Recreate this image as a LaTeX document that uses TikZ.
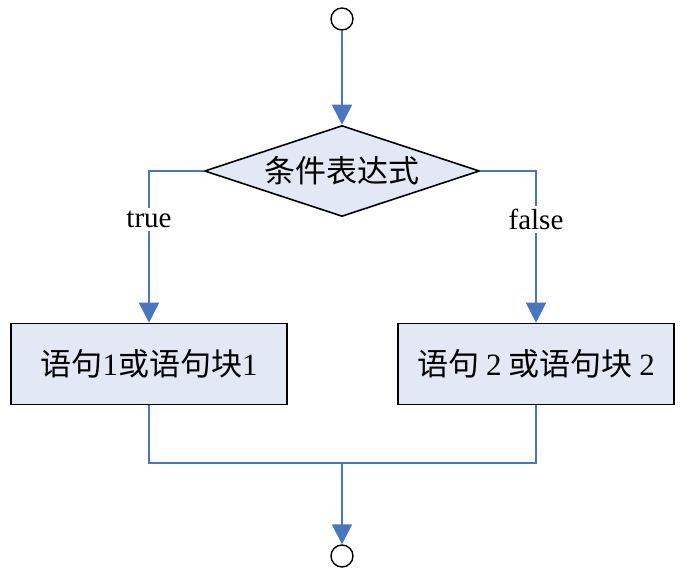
\documentclass[tikz,border=0pt]{standalone}
\usepackage{fontspec}
\setmainfont{Liberation Serif}
\newfontfamily\cjk{Noto Sans CJK SC}
\usetikzlibrary{positioning,shapes.geometric,arrows.meta}
\definecolor{flowblue}{RGB}{74,118,190}
\definecolor{boxfill}{RGB}{226,233,244}
\tikzset{
  basic/.style    = {draw, line width=1.6pt, font=\cjk\fontsize{31}{34}\selectfont},
  terminal/.style = {circle, draw, line width=1.4pt, minimum size=22pt, inner sep=0pt},
  decision/.style = {basic, diamond, aspect=3, fill=boxfill, minimum width=275pt,
                     minimum height=91pt, inner sep=0pt},
  stmt/.style     = {basic, rectangle, fill=boxfill, minimum width=276pt,
                     minimum height=81pt, align=center},
  flow/.style     = {draw=flowblue, line width=1.8pt},
  label/.style    = {fill=white, font=\fontsize{29}{32}\selectfont, inner sep=3pt}
}

\begin{document}
\begin{tikzpicture}[x=1pt, y=-1pt,
  >={Triangle[length=20pt, width=20pt]}]
\useasboundingbox (0,0) rectangle (687,577);

% start and end points
\node[terminal] (start) at (342,19) {};
\node[terminal] (stop)  at (342,556) {};

% condition
\node[decision] (cond) at (342,171) {条件表达式};

% the two branches
\node[stmt] (s1) at (149,364) {语句{\rmfamily 1}或语句块{\rmfamily 1}};
\node[stmt] (s2) at (536,364) {语句 {\rmfamily 2} 或语句块 {\rmfamily 2}};

\coordinate (merge) at (342,463);

% lines from the condition to each branch
\draw[flow, ->] (start) -- (cond.north);
\draw[flow, ->] (cond.west) -| (s1.north)
  node[label, pos=0.66] (t) {true};
\draw[flow, ->] (cond.east) -| (s2.north)
  node[label, pos=0.66] (f) {false};

% joining both branches again
\draw[flow] (s1.south) |- (merge);
\draw[flow] (s2.south) |- (merge);
\draw[flow, ->] (merge) -- (stop);

\end{tikzpicture}
\end{document}
